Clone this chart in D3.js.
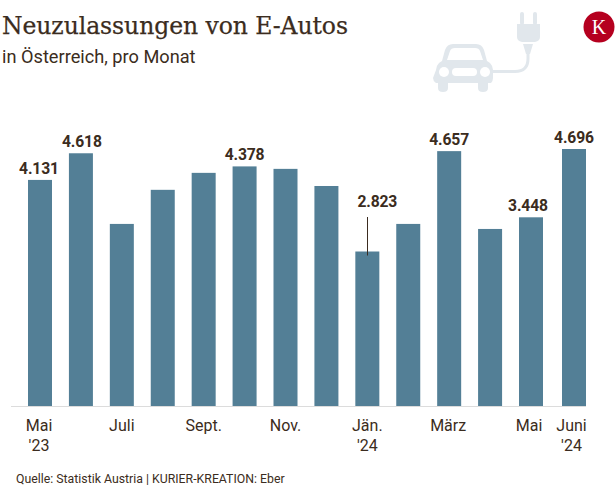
<!DOCTYPE html>
<html><head><meta charset="utf-8">
<script src="https://cdn.jsdelivr.net/npm/d3@7"></script>
<style>
html,body{margin:0;padding:0;background:#fff}
svg{display:block}
text{font-family:Roboto,sans-serif;fill:#3b2c20}
</style></head><body>
<svg id="c" width="616" height="497"></svg>
<script>
const months=["Mai 23","Juni 23","Juli 23","Aug 23","Sept 23","Okt 23","Nov 23","Dez 23","Jän 24","Feb 24","März 24","Apr 24","Mai 24","Juni 24"];
const values=[4131,4618,3327,3950,4260,4378,4333,4020,2823,3327,4657,3235,3448,4696];
const valueLabels=["4.131","4.618",null,null,null,"4.378",null,null,"2.823",null,"4.657",null,"3.448","4.696"];
const tickLabels=[["Mai","'23"],["Juli"],["Sept."],["Nov."],["Jän.","'24"],["März"],["Mai"],["Juni","'24"]];
const tickIndex=[0,2,4,6,8,10,12,13];
const svg=d3.select("#c");
const x=d3.scaleLinear().domain([0,12,13]).range([28,519,562]);
const bw=24;
const y=d3.scaleLinear().domain([0,4696]).range([406,149]);
const mono="#537f96";
svg.append("text").attr("x",2).attr("y",34).attr("font-size",23.5).style("font-family","'DejaVu Serif',serif").style("stroke","#3b2c20").style("stroke-width",0.25).attr("textLength",346).attr("lengthAdjust","spacing").text("Neuzulassungen von E-Autos");
svg.append("text").attr("x",2).attr("y",63).attr("font-size",18.2).text("in Österreich, pro Monat");
svg.append("g").selectAll("rect").data(values).join("rect")
 .attr("x",(d,i)=>x(i)).attr("y",d=>y(d)).attr("width",bw).attr("height",d=>y(0)-y(d)).attr("fill",mono);
svg.append("line").attr("x1",11).attr("x2",586).attr("y1",406.5).attr("y2",406.5).attr("stroke","#dcdcdc").attr("stroke-width",1);
const labelNudge={8:10,12:-3,0:-1,1:1};
svg.append("g").selectAll("text").data(values.map((d,i)=>({d,i,l:valueLabels[i]})).filter(o=>o.l)).join("text")
 .attr("x",o=>x(o.i)+bw/2+(labelNudge[o.i]||0)).attr("y",o=>o.i===8?207:y(o.d)-6)
 .attr("text-anchor","middle").attr("font-size",15.7).attr("font-weight",700).style("letter-spacing","-0.15px").text(o=>o.l);
svg.append("line").attr("x1",367.5).attr("x2",367.5).attr("y1",217).attr("y2",y(2823)+4).attr("stroke","#3b2c20").attr("stroke-width",1);
const tickNudge={0:-1,10:-1,12:-2,13:-2.5};
const t=svg.append("g").selectAll("text").data(tickIndex).join("text")
 .attr("text-anchor","middle").attr("font-size",16)
 .attr("transform",(d)=>`translate(${x(d)+bw/2+(tickNudge[d]||0)},430.5)`);
t.each(function(d,i){const s=d3.select(this);tickLabels[i].forEach((l,k)=>s.append("tspan").attr("x",0).attr("y",k*20.5).text(l));});
svg.append("text").attr("x",16).attr("y",483).attr("font-size",12.3).text("Quelle: Statistik Austria | KURIER-KREATION: Eber");
// icon
const ic=svg.append("g").attr("fill","#e1e7ec");
ic.append("path").attr("d","M436 70q0-4 3-7l3-2l3-11q2-6 8-6h23q6 0 8 6l3 11l3 2q3 3 3 7v8q0 3-2 5h-3v5q0 4-5 4t-5-4v-5h-30v5q0 4-5 4t-5-4v-5h-2q-3-2-3-5z");
ic.append("path").attr("d","M447 60l3-9q1-3 5-3h20q4 0 5 3l3 9z").attr("fill","#fff");
ic.append("circle").attr("cx",444).attr("cy",72).attr("r",5).attr("fill","#fff");
ic.append("circle").attr("cx",485).attr("cy",72).attr("r",5).attr("fill","#fff");
ic.append("rect").attr("x",452).attr("y",68).attr("width",25).attr("height",8).attr("rx",4).attr("fill","#fff");
ic.append("path").attr("d","M493 71.500h22q13 0 13-13V52").attr("fill","none").attr("stroke","#e1e7ec").attr("stroke-width",3);
ic.append("path").attr("d","M517 24h23v13q0 4-5 5h-13q-5-1-5-5z");
ic.append("path").attr("d","M523 44h10l-3 10h-4z");
ic.append("rect").attr("x",520).attr("y",12).attr("width",4).attr("height",13).attr("rx",2);
ic.append("rect").attr("x",533).attr("y",12).attr("width",4).attr("height",13).attr("rx",2);
svg.append("circle").attr("cx",599).attr("cy",27).attr("r",15.5).attr("fill","#b5001f");
svg.append("text").attr("x",599).attr("y",34).attr("text-anchor","middle").attr("font-size",20).style("font-family","'Liberation Serif',serif").style("fill","#fff").text("K");
</script></body></html>
